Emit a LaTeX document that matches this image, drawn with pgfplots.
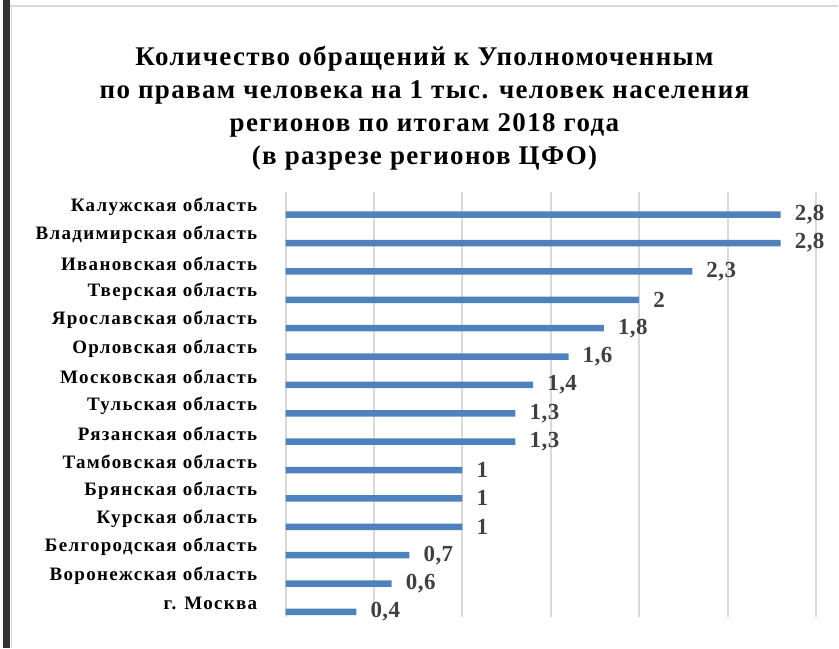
\documentclass[border=0pt]{standalone}
\usepackage{fontspec}
\setmainfont{Liberation Serif}
\usepackage{pgfplots}
\pgfplotsset{compat=1.18}
\definecolor{barblue}{HTML}{4F81BD}
\definecolor{gridgray}{HTML}{D9D9D9}
\definecolor{lbl}{HTML}{404040}
\definecolor{frame}{HTML}{333333}
\begin{document}
\begin{tikzpicture}[x=1pt,y=1pt]
\path (0,0) rectangle (839,649);
\fill[frame] (3,0) rectangle (10,649);
\draw[gridgray, line width=2pt] (10,643) -- (839,643);
\draw[gridgray, line width=1pt] (11.5,0) -- (11.5,643);
\node[align=center, font=\bfseries\fontsize{27}{33}\selectfont\addfontfeatures{LetterSpace=5}] at (425,541)
  {Количество обращений к Уполномоченным\\по правам человека на 1 тыс. человек населения\\регионов по итогам 2018 года\\(в разрезе регионов ЦФО)};
\begin{axis}[
  at={(286pt,31pt)}, anchor=south west,
  scale only axis, width=531pt, height=426pt,
  xmin=0, xmax=3, ymin=-0.81, ymax=14.19,
  y dir=reverse,
  xbar, bar width=6.5pt,
  axis line style={draw=none},
  tick style={draw=none},
  xtick={0,0.5,1,1.5,2,2.5,3}, xticklabels={},
  xmajorgrids, grid style={gridgray, line width=2pt},
  ytick={0,1,2,3,4,5,6,7,8,9,10,11,12,13,14},
  yticklabels={Калужская область,Владимирская область,Ивановская область,Тверская область,Ярославская область,Орловская область,Московская область,Тульская область,Рязанская область,Тамбовская область,Брянская область,Курская область,Белгородская область,Воронежская область,г. Москва},
  yticklabel style={font=\bfseries\fontsize{19}{22}\selectfont\addfontfeatures{LetterSpace=7}, anchor=east, inner sep=0pt, xshift=-24pt, yshift=8pt},
  clip=false,
  point meta=x,
  nodes near coords,
  nodes near coords align={horizontal},
  every node near coord/.append style={font=\bfseries\fontsize{23}{25}\selectfont\addfontfeatures{LetterSpace=2}, text=lbl, anchor=west, inner sep=0pt, xshift=14pt,
    /pgf/number format/assume math mode=true, /pgf/number format/use comma},
]
\addplot[fill=barblue, draw=none] coordinates {
(2.8,0) (2.8,1) (2.3,2) (2,3) (1.8,4) (1.6,5) (1.4,6) (1.3,7) (1.3,8) (1,9) (1,10) (1,11) (0.7,12) (0.6,13) (0.4,14)};
\end{axis}
\end{tikzpicture}
\end{document}
